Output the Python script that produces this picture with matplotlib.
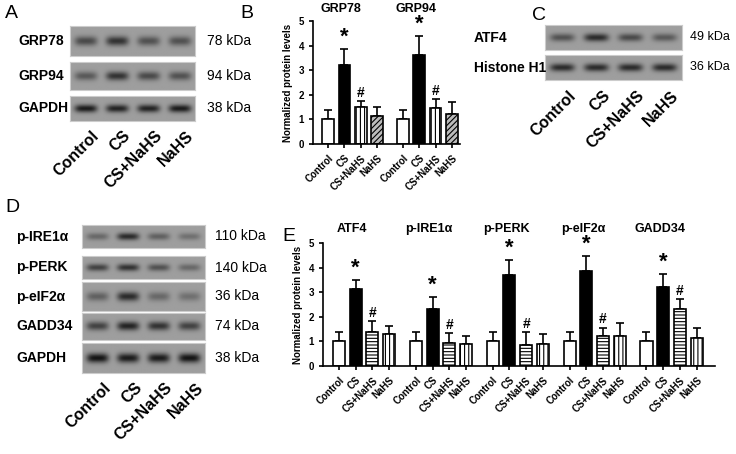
import numpy as np
import matplotlib
matplotlib.use("Agg")
import matplotlib.pyplot as plt

plt.rcParams["font.family"] = "Liberation Sans"
plt.rcParams["hatch.linewidth"] = 0.8

groups = ["Control", "CS", "CS+NaHS", "NaHS"]

# panel B
b_titles = ["GRP78", "GRP94"]
b_means = [[1.0, 3.2, 1.5, 1.13], [1.0, 3.6, 1.45, 1.22]]
b_errs = [[0.37, 0.65, 0.25, 0.38], [0.37, 0.8, 0.38, 0.5]]

# panel E
e_titles = ["ATF4", "p-IRE1\u03b1", "p-PERK", "p-eIF2\u03b1", "GADD34"]
e_means = [[1.0, 3.12, 1.37, 1.3], [1.0, 2.33, 0.95, 0.9], [1.0, 3.7, 0.87, 0.9],
           [1.0, 3.87, 1.23, 1.2], [1.0, 3.23, 2.33, 1.13]]
e_errs = [[0.4, 0.38, 0.45, 0.32], [0.4, 0.48, 0.4, 0.32], [0.4, 0.62, 0.5, 0.42],
          [0.4, 0.6, 0.33, 0.55], [0.37, 0.5, 0.38, 0.43]]

# blot band intensities (0..1 darkness) per lane
blot_a = {"GRP78": [0.55, 0.7, 0.5, 0.5], "GRP94": [0.45, 0.7, 0.55, 0.5],
          "GAPDH": [0.85, 0.8, 0.8, 0.85]}
blot_a_kda = ["78 kDa", "94 kDa", "38 kDa"]
blot_c = {"ATF4": [0.5, 0.75, 0.55, 0.45], "Histone H1": [0.75, 0.75, 0.75, 0.75]}
blot_c_kda = ["49 kDa", "36 kDa"]
blot_d = {"p-IRE1\u03b1": [0.35, 0.75, 0.4, 0.3], "p-PERK": [0.6, 0.7, 0.5, 0.35],
          "p-eIF2\u03b1": [0.4, 0.75, 0.35, 0.3], "GADD34": [0.6, 0.8, 0.7, 0.6],
          "GAPDH": [0.9, 0.85, 0.85, 0.9]}
blot_d_kda = ["110 kDa", "140 kDa", "36 kDa", "74 kDa", "38 kDa"]

W, H = 736, 454
fig = plt.figure(figsize=(W / 100, H / 100), dpi=100)


def px_axes(x0, y0, x1, y1):
    return fig.add_axes([x0 / W, 1 - y1 / H, (x1 - x0) / W, (y1 - y0) / H])


def ftext(x, y, s, **kw):
    fig.text(x / W, 1 - y / H, s, **kw)


def blot(x0, x1, rows, bands, kdas, label_x, kda_x, tick_y, kda_size=10):
    for (y0, y1), (name, vals), kda in zip(rows, bands.items(), kdas):
        ax = px_axes(x0, y0, x1, y1)
        nx, ny = 200, 40
        xs = np.linspace(0, 4, nx)
        ys = np.linspace(-1, 1, ny)
        img = np.zeros((ny, nx))
        for i, v in enumerate(vals):
            prof = np.exp(-((xs - i - 0.5) / 0.36) ** 4)
            img += v * np.outer(np.exp(-(ys / 0.32) ** 2), prof)
        img = 0.62 - 0.6 * np.clip(img, 0, 1)
        ax.imshow(img, cmap="gray", vmin=0, vmax=1, aspect="auto")
        ax.set_xticks([]); ax.set_yticks([])
        for s in ax.spines.values():
            s.set_color("#ccc")
        ftext(label_x, (y0 + y1) / 2, name, fontsize=10, fontweight="bold", va="center")
        ftext(kda_x, (y0 + y1) / 2, kda, fontsize=kda_size, va="center")
    step = (x1 - x0) / 4
    for i, g in enumerate(groups):
        ftext(x0 + step * (i + 0.5) + 6, tick_y, g, fontsize=11.5, fontweight="bold",
              rotation=45, ha="right", va="top", rotation_mode="anchor")


blot(70, 195, [(26, 56), (62, 90), (96, 121)], blot_a, blot_a_kda, 18, 207, 128)
blot(545, 682, [(25, 50), (55, 80)], blot_c, blot_c_kda, 474, 690, 88, kda_size=9)
blot(82, 205, [(225, 248), (256, 279), (282, 311), (313, 340), (343, 373)], blot_d,
     blot_d_kda, 16, 215, 380)

for s, x, y in [("A", 5, 14), ("B", 240, 14), ("C", 532, 16), ("D", 5, 208), ("E", 282, 236)]:
    ftext(x, y, s, fontsize=14, va="center")


def barpanel(ax, titles, means, errs, hatches, ylab_size, title_y):
    step = 4.6
    for g, (t, m, e) in enumerate(zip(titles, means, errs)):
        xs = np.arange(4) + g * step
        fc = ["white", "black", "white", "white"]
        for i in range(4):
            ax.bar(xs[i], m[i], width=0.72, color=fc[i], edgecolor="black", linewidth=1.2,
                   hatch=hatches[i], zorder=2)
            ax.errorbar(xs[i], m[i], yerr=[[0], [e[i]]], color="black", capsize=3,
                        elinewidth=1.2, capthick=1.2, zorder=1)
        ax.text(xs[1], m[1] + e[1] + 0.05, "*", ha="center", va="bottom", fontsize=16, fontweight="bold")
        ax.text(xs[2], m[2] + e[2] + 0.05, "#", ha="center", va="bottom", fontsize=10, fontweight="bold")
        ax.text(xs[1] - 0.2, title_y, t, ha="center", fontsize=9, fontweight="bold")
    ticks = [g * step + i for g in range(len(titles)) for i in range(4)]
    ax.set_xticks(ticks)
    ax.set_xticklabels(groups * len(titles), rotation=45, ha="right", fontsize=7.5,
                       fontweight="bold", rotation_mode="anchor")
    ax.set_ylim(0, 5)
    ax.set_yticks(range(6))
    ax.tick_params(labelsize=7, width=1.2, length=3)
    for lab in ax.get_yticklabels():
        lab.set_fontweight("bold")
    ax.spines[["top", "right"]].set_visible(False)
    ax.spines[["left", "bottom"]].set_linewidth(1.2)
    ax.set_ylabel("Normalized protein levels", fontsize=ylab_size, fontweight="bold")


axb = px_axes(313, 21, 460, 144)
axb.set_xlim(-0.93, 8.1)
barpanel(axb, b_titles, b_means, b_errs, ["", "", "||||", "//////"], 7, 5.35)
axb.patches[3].set_facecolor("#bbb")
axb.patches[7].set_facecolor("#bbb")

axe = px_axes(323, 243, 715, 366)
axe.set_xlim(-0.96, 22.5)
barpanel(axe, e_titles, e_means, e_errs, ["", "", "-----", "||||"], 7, 5.45)

fig.savefig("out.png", dpi=100)
